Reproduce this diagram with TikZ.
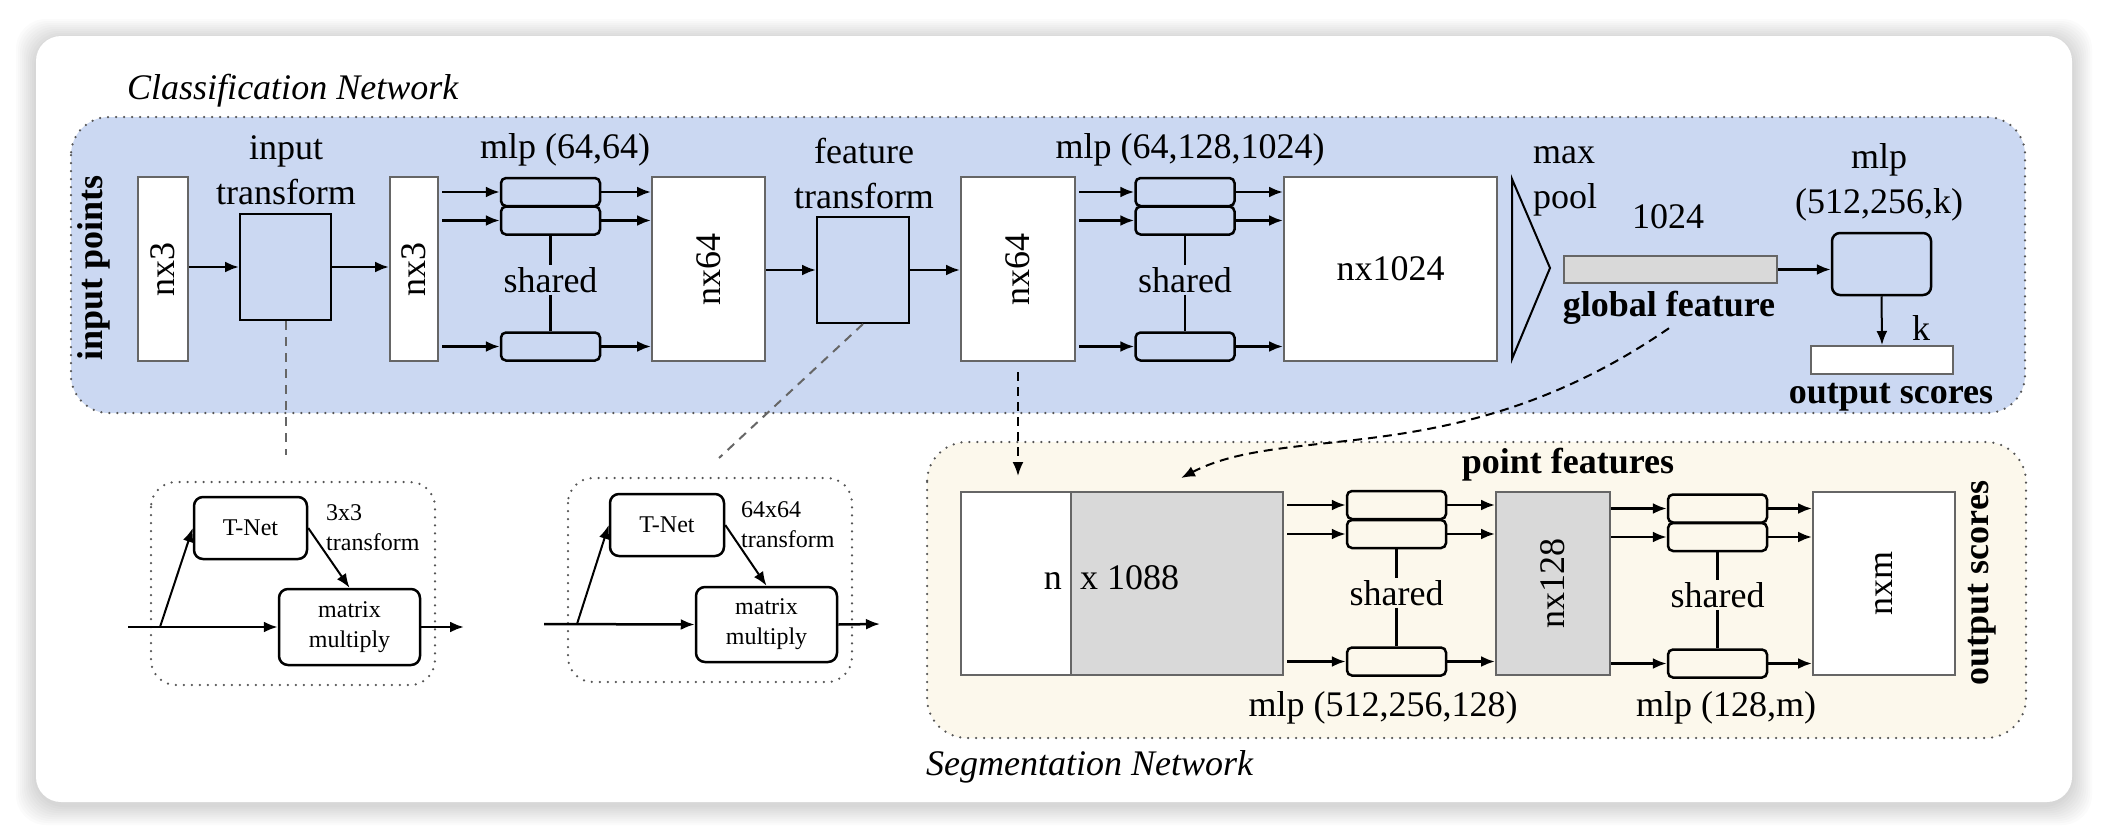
\documentclass[tikz,border=0pt]{standalone}
\usepackage{fontspec}
\setmainfont{Liberation Serif}
\usetikzlibrary{arrows.meta,positioning,calc}
\definecolor{pnBlue}{HTML}{CBD8F2}
\definecolor{pnCream}{HTML}{FCF8EC}
\definecolor{pnGrey}{HTML}{666666}
\definecolor{pnFill}{HTML}{D9D9D9}
\definecolor{pnDot}{HTML}{555555}

\begin{document}
\begin{tikzpicture}[x=1pt,y=-1pt,font=\fontsize{36}{45}\selectfont,
  fm/.style={draw=pnGrey,fill=white,line width=2pt,inner sep=0pt,minimum height=184pt},
  mb/.style={draw,line width=2.5pt,rounded corners=5pt,inner sep=0pt,minimum width=99pt,minimum height=28pt},
  tb/.style={draw,line width=2.5pt,rounded corners=9pt,inner sep=0pt,align=center,fill=white,
             font=\fontsize{24}{30}\selectfont},
  sm/.style={font=\fontsize{24}{30}\selectfont},
  bf/.style={font=\fontsize{36}{45}\selectfont\bfseries},
  it/.style={font=\fontsize{36}{45}\selectfont\itshape},
  a/.style={-{Latex[length=14pt,width=11pt]},line width=2.5pt},
  gd/.style={pnGrey,line width=2pt,dash pattern=on 9pt off 7pt},
  dotbox/.style={draw=pnDot,line width=2.5pt,dash pattern=on 0pt off 8pt,line cap=round}]
\useasboundingbox (0,0) rectangle (2108,838);
\fill[white] (0,0) rectangle (2108,838);
\foreach \r in {2,4,...,20}
  \fill[black,opacity=0.014,rounded corners=30pt] ({36-\r},{39-\r}) rectangle ({2072+\r},{805+\r});
\fill[white,rounded corners=25pt] (36,36) rectangle (2072,802);

\draw[dotbox,fill=pnBlue,rounded corners=38pt] (71,117) rectangle (2025,413);
\node[it,anchor=base west,inner sep=0pt] (cn) at (127,99) {Classification Network};
\node[bf] (ip) at (94,268) {\rotatebox{90}{input points}};
\node[fm,minimum width=50pt] (x1) at (163,269) {\rotatebox{90}{nx3}};
\node[draw,line width=2pt,inner sep=0pt,minimum width=91pt,minimum height=106pt] (itf) at (285.5,267) {};
\node[align=center] (itfl) at (286,170) {input\\transform};
\node[fm,minimum width=48pt] (x2) at (414,269) {\rotatebox{90}{nx3}};
\node[mb] (a1) at (550.5,192) {};
\node[mb] (a2) at (550.5,220.5) {};
\node[mb] (a3) at (550.5,346.5) {};
\node (al) at (565,150) {mlp (64,64)};
\node[inner sep=2pt] (ash) at (550.5,280) {shared};
\node[fm,minimum width=113pt] (f1) at (708.5,269) {\rotatebox{90}{nx64}};
\node[draw,line width=2pt,inner sep=0pt,minimum width=92pt,minimum height=106pt] (ftf) at (863,270) {};
\node[align=center] (ftfl) at (864,173) {feature\\transform};
\node[fm,minimum width=114pt] (f2) at (1018,269) {\rotatebox{90}{nx64}};
\node[mb] (b1) at (1185,192) {};
\node[mb] (b2) at (1185,220.5) {};
\node[mb] (b3) at (1185,346.5) {};
\node (bl) at (1190,150) {mlp (64,128,1024)};
\node[inner sep=2pt] (bsh) at (1185,280) {shared};
\node[fm,minimum width=213pt] (g1) at (1390.5,269) {nx1024};
\draw[line width=2pt] (1512,179) -- (1550,268) -- (1512,359) -- cycle;
\node[align=left,anchor=west,inner sep=0pt] (mpl) at (1533,181) {max\\pool};
\node (gn) at (1668,217) {1024};
\node[draw=pnGrey,fill=pnFill,line width=2pt,inner sep=0pt,minimum width=213pt,minimum height=27pt] (gf) at (1670.5,269.5) {};
\node[bf] (gfl) at (1669,308) {global feature};
\node[draw,line width=2.5pt,rounded corners=8pt,inner sep=0pt,minimum width=99pt,minimum height=62pt] (m) at (1881.5,264) {};
\node[align=center] (ml) at (1879,182) {mlp\\(512,256,k)};
\node[fm,minimum width=142pt,minimum height=28pt] (os) at (1882,360) {};
\node (k) at (1921,328) {k};
\node[bf] (osl) at (1891,397) {output scores};

\draw[a] (itf.west -| x1.east) -- (itf.west);
\draw[a] (itf.east) -- (itf.east -| x2.west);
\foreach \b in {a1,a2,a3} {
  \draw[a,shorten <=3pt] (x2.east |- \b) -- (\b.west);
  \draw[a] (\b.east) -- (\b -| f1.west);
}
\draw[line width=2.5pt] (a2.south) -- (ash.north) (ash.south) -- (a3.north);
\draw[a] (ftf.west -| f1.east) -- (ftf.west);
\draw[a] (ftf.east) -- (ftf.east -| f2.west);
\foreach \b in {b1,b2,b3} {
  \draw[a,shorten <=3pt] (f2.east |- \b) -- (\b.west);
  \draw[a] (\b.east) -- (\b -| g1.west);
}
\draw[line width=2.5pt] (b2.south) -- (bsh.north) (bsh.south) -- (b3.north);
\draw[a] (gf.east) -- (gf -| m.west);
\draw[a,line width=2pt] (m.south) -- (os.north);

\draw[dotbox,fill=pnCream,rounded corners=40pt] (927,442) rectangle (2026,738);
\node[it,anchor=base west,inner sep=0pt] (sgn) at (926,775) {Segmentation Network};
\node[fm,minimum width=110pt,minimum height=183pt] (s0) at (1016,583.5) {};
\node[fm,fill=pnFill,minimum width=212pt,minimum height=183pt] (s1) at (1177,583.5) {};
\node[anchor=base east,inner sep=0pt] (sn0) at (1062,589) {n};
\node[anchor=base west,inner sep=0pt] (sn1) at (1080,589) {x 1088};
\node[bf] (pf) at (1568,465) {point features};
\node[mb,fill=pnCream] (c1) at (1396.5,505) {};
\node[mb,fill=pnCream] (c2) at (1396.5,534) {};
\node[mb,fill=pnCream] (c3) at (1396.5,661.5) {};
\node[inner sep=2pt] (csh) at (1396.5,593) {shared};
\node[fm,fill=pnFill,minimum width=114pt,minimum height=183pt] (h) at (1553,583.5) {\rotatebox{90}{nx128}};
\node[mb,fill=pnCream] (d1) at (1717.5,508.5) {};
\node[mb,fill=pnCream] (d2) at (1717.5,537) {};
\node[mb,fill=pnCream] (d3) at (1717.5,663.5) {};
\node[inner sep=2pt] (dsh) at (1717.5,595) {shared};
\node[fm,minimum width=142pt,minimum height=183pt] (o) at (1884,583.5) {\rotatebox{90}{nxm}};
\node[bf] (osr) at (1982,583) {\rotatebox{90}{output scores}};
\node (cl) at (1383,708) {mlp (512,256,128)};
\node (dml) at (1726,708) {mlp (128,m)};
\foreach \b in {c1,c2,c3} {
  \draw[a,shorten <=3pt] (s1.east |- \b) -- (\b.west);
  \draw[a] (\b.east) -- (\b -| h.west);
}
\draw[line width=2.5pt] (c2.south) -- (csh.north) (csh.south) -- (c3.north);
\foreach \b in {d1,d2,d3} {
  \draw[a] (h.east |- \b) -- (\b.west);
  \draw[a] (\b.east) -- (\b -| o.west);
}
\draw[line width=2.5pt] (d2.south) -- (dsh.north) (dsh.south) -- (d3.north);

\coordinate (it0) at (285.5,455);
\coordinate (ft0) at (719,458);
\coordinate (pf0) at (1181,478);
\draw[gd] (itf.south) -- (it0);
\draw[gd] (ftf.south) -- (ft0);
\draw[a,line width=2pt,dash pattern=on 9pt off 6pt,shorten <=10pt,shorten >=15pt] (f2.south) -- (f2.south |- s0.north);
\draw[a,line width=2pt,dash pattern=on 9pt off 6pt] (gfl.south) .. controls (1459,473) and (1289,422) .. (pf0);

\draw[dotbox,rounded corners=25pt] (151,482) rectangle (435,685);
\node[tb,minimum width=113pt,minimum height=62pt] (tn1) at (250.5,528) {T-Net};
\node[tb,minimum width=141pt,minimum height=76pt] (mm1) at (349.5,627) {matrix\\multiply};
\node[sm,align=left,anchor=west,inner sep=0pt] (tt1) at (326,528) {3x3\\transform};
\coordinate (in1) at (128,627);
\coordinate (br1) at (160,627);
\coordinate (out1) at (464,627);
\draw[a] (in1) -- (mm1.west);
\draw[a,line width=2pt] (br1) -- (tn1.west);
\draw[a,line width=2pt] (tn1.east) -- (mm1.north);
\draw[a] (mm1.east) -- (out1);

\draw[dotbox,rounded corners=25pt] (568,478) rectangle (852,682);
\node[tb,minimum width=114pt,minimum height=62pt] (tn2) at (667,525) {T-Net};
\node[tb,minimum width=141pt,minimum height=75pt] (mm2) at (766.5,624.5) {matrix\\multiply};
\node[sm,align=left,anchor=west,inner sep=0pt] (tt2) at (741,525) {64x64\\transform};
\coordinate (in2) at (544,624);
\coordinate (br2) at (577,624);
\coordinate (out2) at (880,624);
\draw[a] (in2) -- (mm2.west);
\draw[a,line width=2pt] (br2) -- (tn2.west);
\draw[a,line width=2pt] (tn2.east) -- (mm2.north);
\draw[a] (mm2.east) -- (out2);
\end{tikzpicture}
\end{document}
